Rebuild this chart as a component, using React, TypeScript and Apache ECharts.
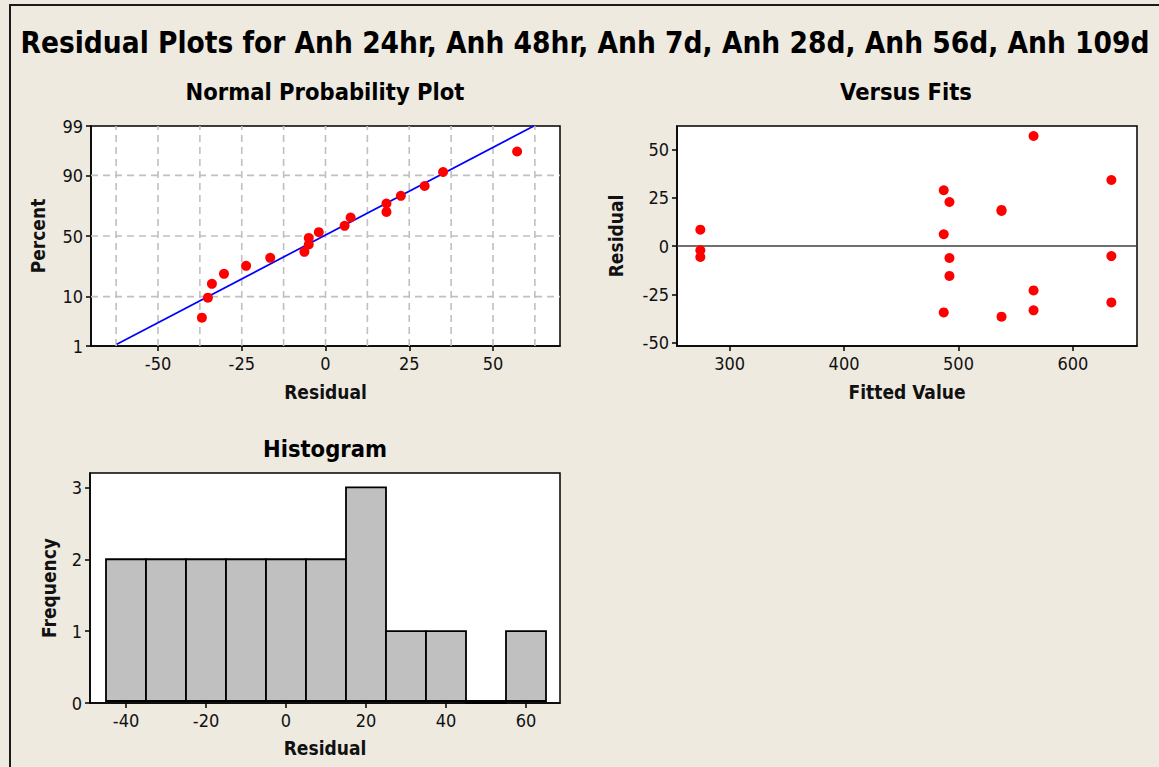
import React, { useEffect, useRef } from "react";
import * as echarts from "echarts";

const TITLE = "Residual Plots for Anh 24hr, Anh 48hr, Anh 7d, Anh 28d, Anh 56d, Anh 109d";

// Normal probability plot (residual, percent)
const NPP_RESIDUALS = [-36.9, -35.1, -33.9, -30.3, -23.7, -16.5, -6.3, -5.0, -5.0, -2.0, 5.7, 7.5, 18.2, 18.2, 22.5, 29.6, 35.1, 57.2];
const NPP_PERCENTS = [4.2, 9.6, 15.6, 21.2, 26.4, 32.2, 36.9, 42.9, 48.4, 53.2, 58.5, 65.2, 69.5, 75.4, 80.2, 85.5, 91.2, 96.3];
const FIT_LINE_RESIDUALS = [-62.3, 62.2];
const FIT_LINE_PERCENTS = [1.1, 99];
const NPP_X_TICKS = [-50, -25, 0, 25, 50];
const NPP_X_GRID = [-62.5, -50, -37.5, -25, -12.5, 0, 12.5, 25, 37.5, 50, 62.5];
const NPP_Y_TICKS = [1, 10, 50, 90, 99];
const NPP_Y_GRID = [10, 50, 90];

// Versus fits (fitted value, residual)
const FITTED_VALUES = [274.4, 274.4, 274.4, 487.1, 487.1, 487.1, 492.1, 492.1, 492.1, 537.6, 537.6, 537.6, 565.6, 565.6, 565.6, 633.6, 633.6, 633.6];
const FIT_RESIDUALS = [8.5, -2.2, -5.7, 28.9, 6.1, -34.4, 22.8, -6.2, -15.5, 18.7, 18.2, -36.6, 57.0, -23.0, -33.3, 34.2, -5.2, -29.2];
const VF_X_TICKS = [300, 400, 500, 600];
const VF_Y_TICKS = [-50, -25, 0, 25, 50];
const VF_REFERENCE = [0];

// Histogram of residuals
const BIN_CENTERS = [-40, -30, -20, -10, 0, 10, 20, 30, 40, 50, 60];
const BIN_COUNTS = [2, 2, 2, 2, 2, 2, 3, 1, 1, 0, 1];
const BIN_WIDTH = 10;
const HIST_X_TICKS = [-40, -20, 0, 20, 40, 60];
const HIST_Y_TICKS = [0, 1, 2, 3];

// Axis extents
const NPP_X_RANGE = [-70, 70];
const NPP_Y_RANGE_PCT = [1, 99];
const VF_X_RANGE = [254, 656];
const VF_Y_RANGE = [-51.8, 62.2];
const HIST_X_RANGE = [-49, 68.5];
const HIST_Y_RANGE = [0, 3.2];

function probit(p: number): number {
  const a = [-3.969683028665376e1, 2.209460984245205e2, -2.759285104469687e2, 1.38357751867269e2, -3.066479806614716e1, 2.506628277459239];
  const b = [-5.447609879822406e1, 1.615858368580409e2, -1.556989798598866e2, 6.680131188771972e1, -1.328068155288572e1];
  const c = [-7.784894002430293e-3, -3.223964580411365e-1, -2.400758277161838, -2.549671010095152, 4.374664141464968, 2.938163982698783];
  const d = [7.784695709041462e-3, 3.224671290700398e-1, 2.445134137142996, 3.754408661907416];
  const plow = 0.02425;
  const phigh = 1 - plow;
  if (p < plow) {
    const q = Math.sqrt(-2 * Math.log(p));
    return (((((c[0] * q + c[1]) * q + c[2]) * q + c[3]) * q + c[4]) * q + c[5]) / ((((d[0] * q + d[1]) * q + d[2]) * q + d[3]) * q + 1);
  }
  if (p > phigh) {
    const q = Math.sqrt(-2 * Math.log(1 - p));
    return -(((((c[0] * q + c[1]) * q + c[2]) * q + c[3]) * q + c[4]) * q + c[5]) / ((((d[0] * q + d[1]) * q + d[2]) * q + d[3]) * q + 1);
  }
  const q = p - 0.5;
  const r = q * q;
  return ((((((a[0] * r + a[1]) * r + a[2]) * r + a[3]) * r + a[4]) * r + a[5]) * q) / (((((b[0] * r + b[1]) * r + b[2]) * r + b[3]) * r + b[4]) * r + 1);
}
const zOf = (pct: number) => probit(pct / 100);

const FONT = '"DejaVu Sans Condensed", "DejaVu Sans", sans-serif';
const BG = "#EEEAE0";
const TEXT = "#111";

function axisBase(extra: any) {
  return {
    type: "value",
    axisLine: { show: true, onZero: false, lineStyle: { color: "#000", width: 1.5 } },
    axisTick: { show: true, length: 5, lineStyle: { color: "#000", width: 1.5 } },
    axisLabel: { color: TEXT, fontSize: 18, fontFamily: FONT, margin: 8 },
    splitLine: { show: false },
    nameLocation: "middle",
    nameTextStyle: { color: TEXT, fontSize: 19, fontWeight: "bold", fontFamily: FONT },
    ...extra,
  };
}

function tickOpts(values: number[]) {
  return { show: true, length: 5, customValues: values, lineStyle: { color: "#000", width: 1.5 } };
}

function labelOpts(values: number[], extra: any = {}) {
  return { color: TEXT, fontSize: 18, fontFamily: FONT, margin: 8, customValues: values, ...extra };
}

export default function App() {
  const ref = useRef<HTMLDivElement>(null);

  useEffect(() => {
    if (!ref.current) return;
    const chart = echarts.init(ref.current, undefined, { renderer: "svg" });

    const nppYMin = zOf(NPP_Y_RANGE_PCT[0]);
    const nppYMax = zOf(NPP_Y_RANGE_PCT[1]);
    const nppYTickZ = NPP_Y_TICKS.map(zOf);

    const gridLineStyle = { stroke: "#c0c0c0", lineWidth: 1.6, lineDash: [7, 5] };

    const option: any = {
      animation: false,
      backgroundColor: BG,
      textStyle: { fontFamily: FONT },
      grid: [
        { left: 91, top: 126, width: 469, height: 220, show: true, backgroundColor: "#fff", borderColor: "#000", borderWidth: 1.5 },
        { left: 677, top: 126, width: 460, height: 220, show: true, backgroundColor: "#fff", borderColor: "#000", borderWidth: 1.5 },
        { left: 90, top: 473, width: 470, height: 230, show: true, backgroundColor: "#fff", borderColor: "#000", borderWidth: 1.5 },
      ],
      xAxis: [
        axisBase({
          gridIndex: 0,
          min: NPP_X_RANGE[0],
          max: NPP_X_RANGE[1],
          name: "Residual",
          nameGap: 36,
          axisTick: tickOpts(NPP_X_TICKS),
          axisLabel: labelOpts(NPP_X_TICKS),
        }),
        axisBase({
          gridIndex: 1,
          min: VF_X_RANGE[0],
          max: VF_X_RANGE[1],
          name: "Fitted Value",
          nameGap: 36,
          axisTick: tickOpts(VF_X_TICKS),
          axisLabel: labelOpts(VF_X_TICKS),
        }),
        axisBase({
          gridIndex: 2,
          min: HIST_X_RANGE[0],
          max: HIST_X_RANGE[1],
          name: "Residual",
          nameGap: 35,
          axisTick: tickOpts(HIST_X_TICKS),
          axisLabel: labelOpts(HIST_X_TICKS),
        }),
      ],
      yAxis: [
        axisBase({
          gridIndex: 0,
          min: nppYMin,
          max: nppYMax,
          name: "Percent",
          nameGap: 44,
          axisTick: tickOpts(nppYTickZ),
          axisLabel: labelOpts(nppYTickZ, {
            formatter: (v: number) => {
              let best = 0;
              nppYTickZ.forEach((t, i) => {
                if (Math.abs(t - v) < Math.abs(nppYTickZ[best] - v)) best = i;
              });
              return String(NPP_Y_TICKS[best]);
            },
          }),
        }),
        axisBase({
          gridIndex: 1,
          min: VF_Y_RANGE[0],
          max: VF_Y_RANGE[1],
          name: "Residual",
          nameGap: 52,
          axisTick: tickOpts(VF_Y_TICKS),
          axisLabel: labelOpts(VF_Y_TICKS),
        }),
        axisBase({
          gridIndex: 2,
          min: HIST_Y_RANGE[0],
          max: HIST_Y_RANGE[1],
          name: "Frequency",
          nameGap: 32,
          axisTick: tickOpts(HIST_Y_TICKS),
          axisLabel: labelOpts(HIST_Y_TICKS),
        }),
      ],
      graphic: [
        {
          type: "polyline",
          silent: true,
          shape: { points: [[10, 800], [10, 5], [1200, 5]] },
          style: { stroke: "#1a1a1a", lineWidth: 2, fill: null },
        },
        {
          type: "text",
          x: 585,
          y: 43,
          style: { text: TITLE, fill: "#000", font: `bold 29.5px ${FONT}`, textAlign: "center", textVerticalAlign: "middle" },
        },
        {
          type: "text",
          x: 325,
          y: 92,
          style: { text: "Normal Probability Plot", fill: "#000", font: `bold 23.5px ${FONT}`, textAlign: "center", textVerticalAlign: "middle" },
        },
        {
          type: "text",
          x: 906,
          y: 92,
          style: { text: "Versus Fits", fill: "#000", font: `bold 23.5px ${FONT}`, textAlign: "center", textVerticalAlign: "middle" },
        },
        {
          type: "text",
          x: 325,
          y: 449,
          style: { text: "Histogram", fill: "#000", font: `bold 23.5px ${FONT}`, textAlign: "center", textVerticalAlign: "middle" },
        },
      ],
      series: [
        // NPP vertical grid lines
        {
          type: "custom",
          xAxisIndex: 0,
          yAxisIndex: 0,
          z: 1,
          silent: true,
          data: NPP_X_GRID.map((v) => [v, 0]),
          renderItem: (_p: any, api: any) => {
            const v = api.value(0);
            const a = api.coord([v, nppYMin]);
            const b = api.coord([v, nppYMax]);
            return { type: "line", shape: { x1: a[0], y1: a[1], x2: b[0], y2: b[1] }, style: gridLineStyle };
          },
        },
        // NPP horizontal grid lines
        {
          type: "custom",
          xAxisIndex: 0,
          yAxisIndex: 0,
          z: 1,
          silent: true,
          data: NPP_Y_GRID.map((p) => [0, zOf(p)]),
          renderItem: (_p: any, api: any) => {
            const v = api.value(1);
            const a = api.coord([NPP_X_RANGE[0], v]);
            const b = api.coord([NPP_X_RANGE[1], v]);
            return { type: "line", shape: { x1: a[0], y1: a[1], x2: b[0], y2: b[1] }, style: gridLineStyle };
          },
        },
        // fitted normal line
        {
          type: "line",
          xAxisIndex: 0,
          yAxisIndex: 0,
          z: 2,
          silent: true,
          showSymbol: false,
          symbol: "none",
          data: FIT_LINE_RESIDUALS.map((r, i) => [r, zOf(FIT_LINE_PERCENTS[i])]),
          lineStyle: { color: "#0000ff", width: 1.7 },
        },
        // NPP points
        {
          type: "scatter",
          xAxisIndex: 0,
          yAxisIndex: 0,
          z: 3,
          symbolSize: 10,
          itemStyle: { color: "#ff0000", opacity: 1 },
          data: NPP_RESIDUALS.map((r, i) => [r, zOf(NPP_PERCENTS[i])]),
        },
        // Versus fits reference line at 0
        {
          type: "custom",
          xAxisIndex: 1,
          yAxisIndex: 1,
          z: 1,
          silent: true,
          data: VF_REFERENCE.map((v) => [VF_X_RANGE[0], v]),
          renderItem: (_p: any, api: any) => {
            const v = api.value(1);
            const a = api.coord([VF_X_RANGE[0], v]);
            const b = api.coord([VF_X_RANGE[1], v]);
            return { type: "line", shape: { x1: a[0], y1: a[1], x2: b[0], y2: b[1] }, style: { stroke: "#404040", lineWidth: 1.6 } };
          },
        },
        // Versus fits points
        {
          type: "scatter",
          xAxisIndex: 1,
          yAxisIndex: 1,
          z: 3,
          symbolSize: 10,
          itemStyle: { color: "#ff0000", opacity: 1 },
          data: FITTED_VALUES.map((f, i) => [f, FIT_RESIDUALS[i]]),
        },
        // Histogram bars
        {
          type: "custom",
          xAxisIndex: 2,
          yAxisIndex: 2,
          z: 2,
          silent: true,
          data: BIN_CENTERS.map((c, i) => [c, BIN_COUNTS[i]]),
          renderItem: (_p: any, api: any) => {
            const c = api.value(0);
            const n = api.value(1);
            const a = api.coord([c - BIN_WIDTH / 2, n]);
            const b = api.coord([c + BIN_WIDTH / 2, 0]);
            return {
              type: "rect",
              shape: { x: a[0], y: a[1], width: b[0] - a[0], height: b[1] - a[1] - 2 },
              style: { fill: "#c0c0c0", stroke: "#000", lineWidth: 1.8 },
            };
          },
        },
      ],
    };

    chart.setOption(option);
    return () => chart.dispose();
  }, []);

  return <div ref={ref} style={{ position: "absolute", left: 0, top: 0, width: 1159, height: 767 }} />;
}
